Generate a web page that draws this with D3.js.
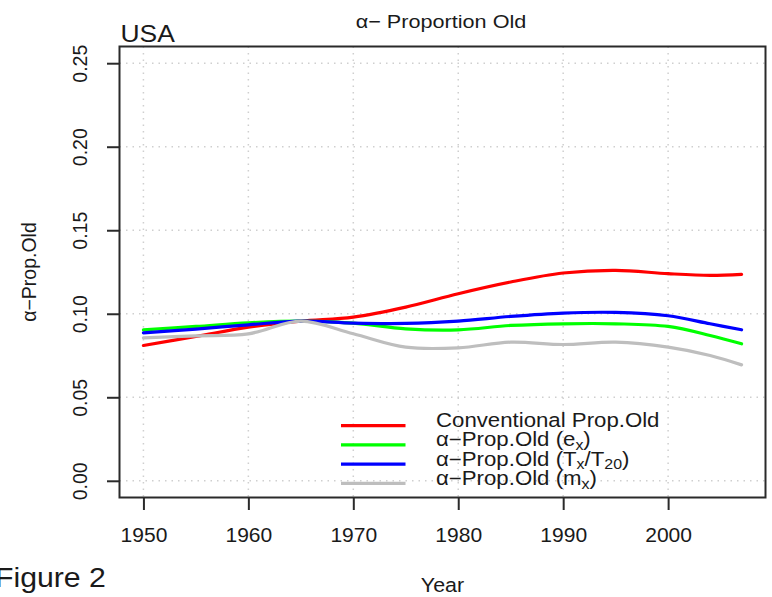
<!DOCTYPE html>
<html>
<head>
<meta charset="utf-8">
<script src="https://cdn.jsdelivr.net/npm/d3@7"></script>
<style>
  body { margin: 0; background: #fff; }
  text { font-family: "Liberation Sans", Arial, sans-serif; fill: #1a1a1a; }
</style>
</head>
<body>
<svg width="772" height="597"></svg>
<script>
// values (USA)
const years = [1950, 1955, 1960, 1965, 1970, 1975, 1980, 1985, 1990, 1995, 2000, 2004, 2007];
const conventional = [0.081, 0.0864, 0.092, 0.0956, 0.098, 0.104, 0.112, 0.119, 0.1244, 0.126, 0.124, 0.123, 0.1236];
const alphaEx = [0.0904, 0.0924, 0.0946, 0.0956, 0.0944, 0.091, 0.0904, 0.093, 0.094, 0.094, 0.0924, 0.087, 0.082];
const alphaTx = [0.0886, 0.0908, 0.0934, 0.0956, 0.0944, 0.0942, 0.0956, 0.0984, 0.1004, 0.1008, 0.0988, 0.094, 0.0904];
const alphaMx = [0.0856, 0.0868, 0.088, 0.0956, 0.088, 0.080, 0.0796, 0.083, 0.0816, 0.083, 0.080, 0.075, 0.0694];

const xTicks = [1950, 1960, 1970, 1980, 1990, 2000];
const yTicks = [0, 0.05, 0.10, 0.15, 0.20, 0.25];

const seriesNames = ["Conventional Prop.Old", "α−Prop.Old (e|x|)", "α−Prop.Old (T|x|/T|20|)", "α−Prop.Old (m|x|)"];
const seriesColors = ["#ff0000", "#00ff00", "#0000ff", "#bebebe"];
const seriesValues = [conventional, alphaEx, alphaTx, alphaMx];

const svg = d3.select("svg"),
      box = {left: 119.5, right: 765.5, top: 46.5, bottom: 497.5};

// R style 4% padding on both axes
const xPad = (2007 - 1950) * 0.04, yPad = 0.25 * 0.04;
const x = d3.scaleLinear().domain([1950 - xPad, 2007 + xPad]).range([box.left, box.right]);
const y = d3.scaleLinear().domain([0 - yPad, 0.25 + yPad]).range([box.bottom, box.top]);

// dotted grid
const grid = svg.append("g").attr("stroke", "#cfcfcf").attr("stroke-width", 1.5).attr("stroke-dasharray", "1.5,5");
grid.selectAll(".vx").data(xTicks).join("line")
  .attr("x1", d => x(d)).attr("x2", d => x(d)).attr("y1", box.top).attr("y2", box.bottom);
grid.selectAll(".hy").data(yTicks).join("line")
  .attr("y1", d => y(d)).attr("y2", d => y(d)).attr("x1", box.left).attr("x2", box.right);

// axes
const xAxis = svg.append("g")
  .attr("transform", `translate(0,${box.bottom})`)
  .call(d3.axisBottom(x).tickValues(xTicks).tickFormat(d3.format("d")).tickSize(12.5).tickPadding(18));
xAxis.select(".domain").remove();
xAxis.selectAll("line").attr("stroke", "#2a2a2a").attr("stroke-width", 2);
xAxis.selectAll("text").attr("font-size", 19.5).attr("font-family", null).attr("fill", "#1a1a1a")
  .attr("transform", "scale(1.08,1)");

const yAxis = svg.append("g")
  .attr("transform", `translate(${box.left},0)`)
  .call(d3.axisLeft(y).tickValues(yTicks).tickFormat(d3.format(".2f")).tickSize(12.5));
yAxis.select(".domain").remove();
yAxis.selectAll("line").attr("stroke", "#2a2a2a").attr("stroke-width", 2);
yAxis.selectAll("text").attr("font-size", 19.5).attr("font-family", null).attr("fill", "#1a1a1a")
  .attr("x", 0).attr("dy", 0).attr("text-anchor", "middle")
  .attr("transform", "translate(-33,0) rotate(-90)");

// box
svg.append("rect")
  .attr("x", box.left).attr("y", box.top)
  .attr("width", box.right - box.left).attr("height", box.bottom - box.top)
  .attr("fill", "none").attr("stroke", "#2a2a2a").attr("stroke-width", 2);

// series lines
const line = d3.line()
  .x((d, i) => x(years[i]))
  .y(d => y(d))
  .curve(d3.curveCatmullRom.alpha(0.5));

svg.append("g").selectAll("path").data(seriesValues).join("path")
  .attr("d", line)
  .attr("fill", "none")
  .attr("stroke", (d, i) => seriesColors[i])
  .attr("stroke-width", 3.2)
  .attr("stroke-linecap", "round");

// legend (no frame)
const legY = d3.scaleLinear().domain([0, 3]).range([425.7, 483.3]);
const leg = svg.append("g");
seriesNames.forEach((name, i) => {
  leg.append("line")
    .attr("x1", 341).attr("x2", 405.5)
    .attr("y1", legY(i)).attr("y2", legY(i))
    .attr("stroke", seriesColors[i]).attr("stroke-width", 3.2);
  const t = leg.append("text")
    .attr("transform", `translate(436,${legY(i) + 1.5}) scale(1.14,1)`)
    .attr("font-size", 19.5);
  // pieces between | | are subscripts
  name.split("|").forEach((part, k) => {
    if (!part) return;
    const sp = t.append("tspan").text(part);
    if (k % 2 === 1) sp.attr("font-size", 14).attr("baseline-shift", "-4");
  });
});

// titles
svg.append("text")
  .attr("transform", "translate(441,27.5) scale(1.17,1)")
  .attr("text-anchor", "middle").attr("font-size", 18.5)
  .text("α− Proportion Old");

svg.append("text")
  .attr("transform", "translate(120.5,41.7) scale(1.15,1)")
  .attr("font-size", 23)
  .text("USA");

svg.append("text")
  .attr("transform", "translate(36,272) rotate(-90)")
  .attr("text-anchor", "middle").attr("font-size", 19.5)
  .text("α−Prop.Old");

svg.append("text")
  .attr("transform", "translate(442.5,591.5) scale(1.1,1)")
  .attr("text-anchor", "middle").attr("font-size", 19.5)
  .text("Year");

svg.append("text")
  .attr("transform", "translate(-5,586.7) scale(1.08,1)")
  .attr("font-size", 28)
  .text("Figure 2");
</script>
</body>
</html>
